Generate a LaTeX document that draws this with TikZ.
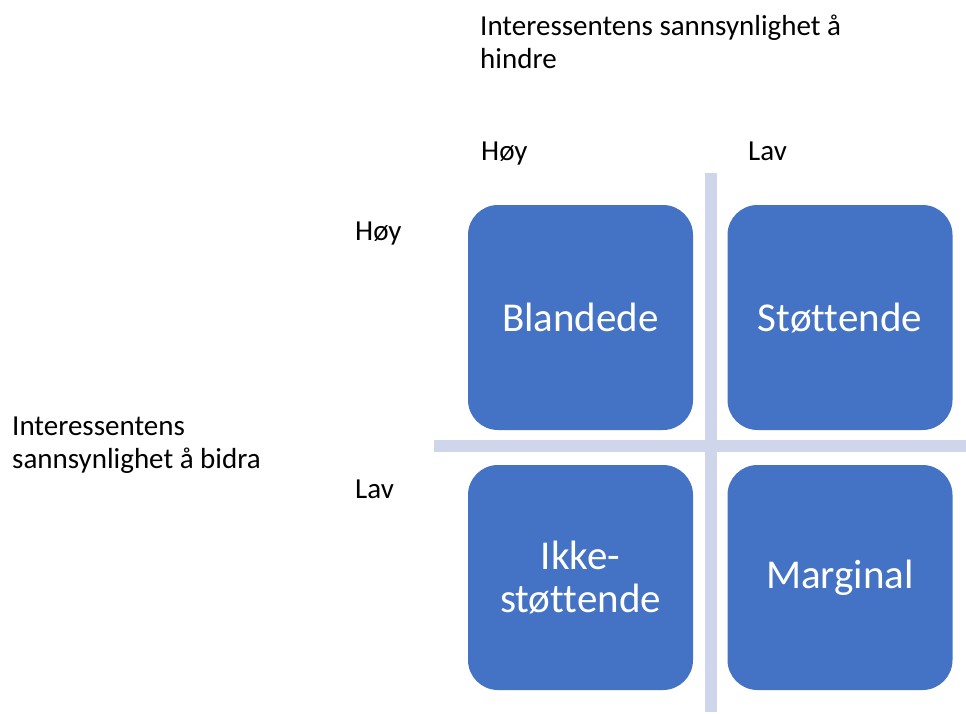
\documentclass[tikz,border=0pt]{standalone}
\usepackage{fontspec}
\setmainfont[Ligatures=NoCommon]{Carlito}
\definecolor{boxblue}{HTML}{4472C4}
\definecolor{barcol}{HTML}{CFD5EA}
\begin{document}
\begin{tikzpicture}[x=1pt,y=-1pt,
  quad/.style={fill=boxblue, draw=none, rounded corners=30pt, minimum width=225pt, minimum height=225pt,
    text=white, font=\fontsize{41}{43}\selectfont, align=center, inner sep=0pt},
  lbl/.style={anchor=base west, inner sep=0pt, font=\fontsize{29}{33}\selectfont, align=left},
  bar/.style={fill=barcol, draw=none}]
\useasboundingbox (0,0) rectangle (966,713);
% bars
\fill[bar] (705,173) rectangle (717,712);
\fill[bar] (434,440) rectangle (966,452);
% boxes
\node[quad] (bl) at (580.5,317.5) {Blandede};
\node[quad] (st) at (840,317.5) {Støttende};
\node[quad] (ik) at (580.5,577.5) {Ikke-\\støttende};
\node[quad] (ma) at (840,577.5) {Marginal};
% labels
\node[lbl] (top) at (480,68) {Interessentens sannsynlighet å\\hindre};
\node[lbl] (hoyt) at (481,160) {Høy};
\node[lbl] (lavt) at (748,160) {Lav};
\node[lbl] (hoyl) at (355,240) {Høy};
\node[lbl] (lavl) at (355,498) {Lav};
\node[lbl] (left) at (12,468) {Interessentens\\sannsynlighet å bidra};
\end{tikzpicture}
\end{document}
